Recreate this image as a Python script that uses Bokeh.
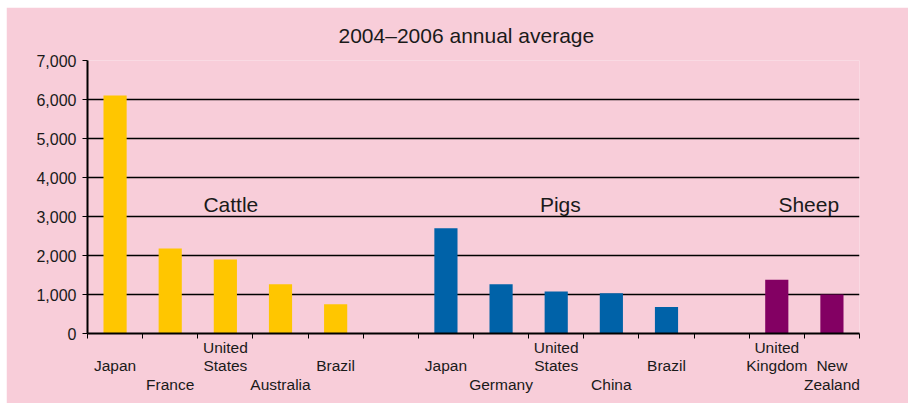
from bokeh.plotting import figure
from bokeh.models import Range1d, FixedTicker, NumeralTickFormatter, Label, ColumnDataSource
from bokeh.embed import file_html
from bokeh.resources import INLINE

# ---- data ----
cattle_countries = ["Japan", "France", "United\nStates", "Australia", "Brazil"]
cattle_values = [6100, 2180, 1900, 1260, 750]
pig_countries = ["Japan", "Germany", "United\nStates", "China", "Brazil"]
pig_values = [2700, 1260, 1080, 1030, 680]
sheep_countries = ["United\nKingdom", "New\nZealand"]
sheep_values = [1380, 1000]
groups = ["Cattle", "Pigs", "Sheep"]
title_text = "2004\u20132006 annual average"
y_ticks = [0, 1000, 2000, 3000, 4000, 5000, 6000, 7000]

colors = {"Cattle": "#FFC600", "Pigs": "#0062A8", "Sheep": "#830063"}
PINK = "#F8CDD9"
FONT = "Liberation Sans"
TXT = "#1a1a1a"

slots = []
idx = 0
for g, cs, vs in [("Cattle", cattle_countries, cattle_values),
                  ("Pigs", pig_countries, pig_values),
                  ("Sheep", sheep_countries, sheep_values)]:
    for c, v in zip(cs, vs):
        slots.append((idx, c, v, g))
        idx += 1
    if g != "Sheep":
        idx += 1
n_slots = idx

src = ColumnDataSource(dict(
    x=[s[0] + 0.5 for s in slots],
    top=[s[2] for s in slots],
    color=[colors[s[3]] for s in slots],
))

p = figure(width=902, height=396, output_backend="svg", toolbar_location=None,
           x_range=Range1d(0, n_slots), y_range=Range1d(0, 7000),
           min_border_left=81, min_border_right=49, min_border_top=53, min_border_bottom=70,
           margin=(7, 0, 0, 6))
p.background_fill_color = PINK
p.border_fill_color = PINK
p.outline_line_color = None

p.vbar(x="x", top="top", width=0.42, color="color", line_color=None, source=src)

# title
p.title.text = title_text
p.title.align = "left"
p.title.offset = 251
p.title.standoff = 27
p.title.text_font = FONT
p.title.text_font_size = "21px"
p.title.text_font_style = "normal"
p.title.text_color = TXT

# y axis
p.yaxis.ticker = FixedTicker(ticks=y_ticks)
p.yaxis.formatter = NumeralTickFormatter(format="0,0")
p.yaxis.axis_line_width = 2
p.yaxis.axis_line_color = "black"
p.yaxis.major_tick_out = 5
p.yaxis.major_tick_in = 0
p.yaxis.minor_tick_line_color = None
p.yaxis.major_tick_line_color = "black"
p.yaxis.major_label_text_font = FONT
p.yaxis.major_label_text_font_size = "16px"
p.yaxis.major_label_text_color = TXT
p.yaxis.major_label_standoff = 6

# x axis: labels at slot centres (major), tick marks at slot boundaries (minor)
centers = [s[0] + 0.5 for s in slots]
boundaries = list(range(n_slots + 1))
p.xaxis.ticker = FixedTicker(ticks=centers, minor_ticks=boundaries)
overrides = {}
for sx, lab, val, g in slots:
    pos_in_group = [s[0] for s in slots if s[3] == g].index(sx)
    low = pos_in_group % 2 == 1
    n_lines = len(lab.split("\n"))
    if n_lines == 1:
        pad = "\n\n" if low else "\n"
    else:
        pad = "\n" if low else ""
    overrides[sx + 0.5] = pad + lab
p.xaxis.major_label_overrides = overrides
p.xaxis.major_label_text_font = FONT
p.xaxis.major_label_text_font_size = "15.5px"
p.xaxis.major_label_text_color = TXT
p.xaxis.major_label_text_line_height = 1.1
p.xaxis.major_label_standoff = 0
p.xaxis.axis_line_width = 2
p.xaxis.axis_line_color = "black"
p.xaxis.major_tick_out = 5
p.xaxis.major_tick_in = 0
p.xaxis.major_tick_line_color = None
p.xaxis.minor_tick_out = 5
p.xaxis.minor_tick_in = 0
p.xaxis.minor_tick_line_color = "black"
p.xaxis.minor_tick_line_width = 1

p.xgrid.grid_line_color = None
p.ygrid.ticker = FixedTicker(ticks=y_ticks)
p.ygrid.grid_line_color = "black"
p.ygrid.grid_line_width = 1.3

for g, gx in zip(groups, [2.6, 8.575, 13.08]):
    p.add_layout(Label(x=gx, y=3310, text=g, text_align="center", text_baseline="alphabetic",
                       text_font=FONT, text_font_size="21px", text_color=TXT))

open("out.html", "w").write(file_html(p, INLINE))
